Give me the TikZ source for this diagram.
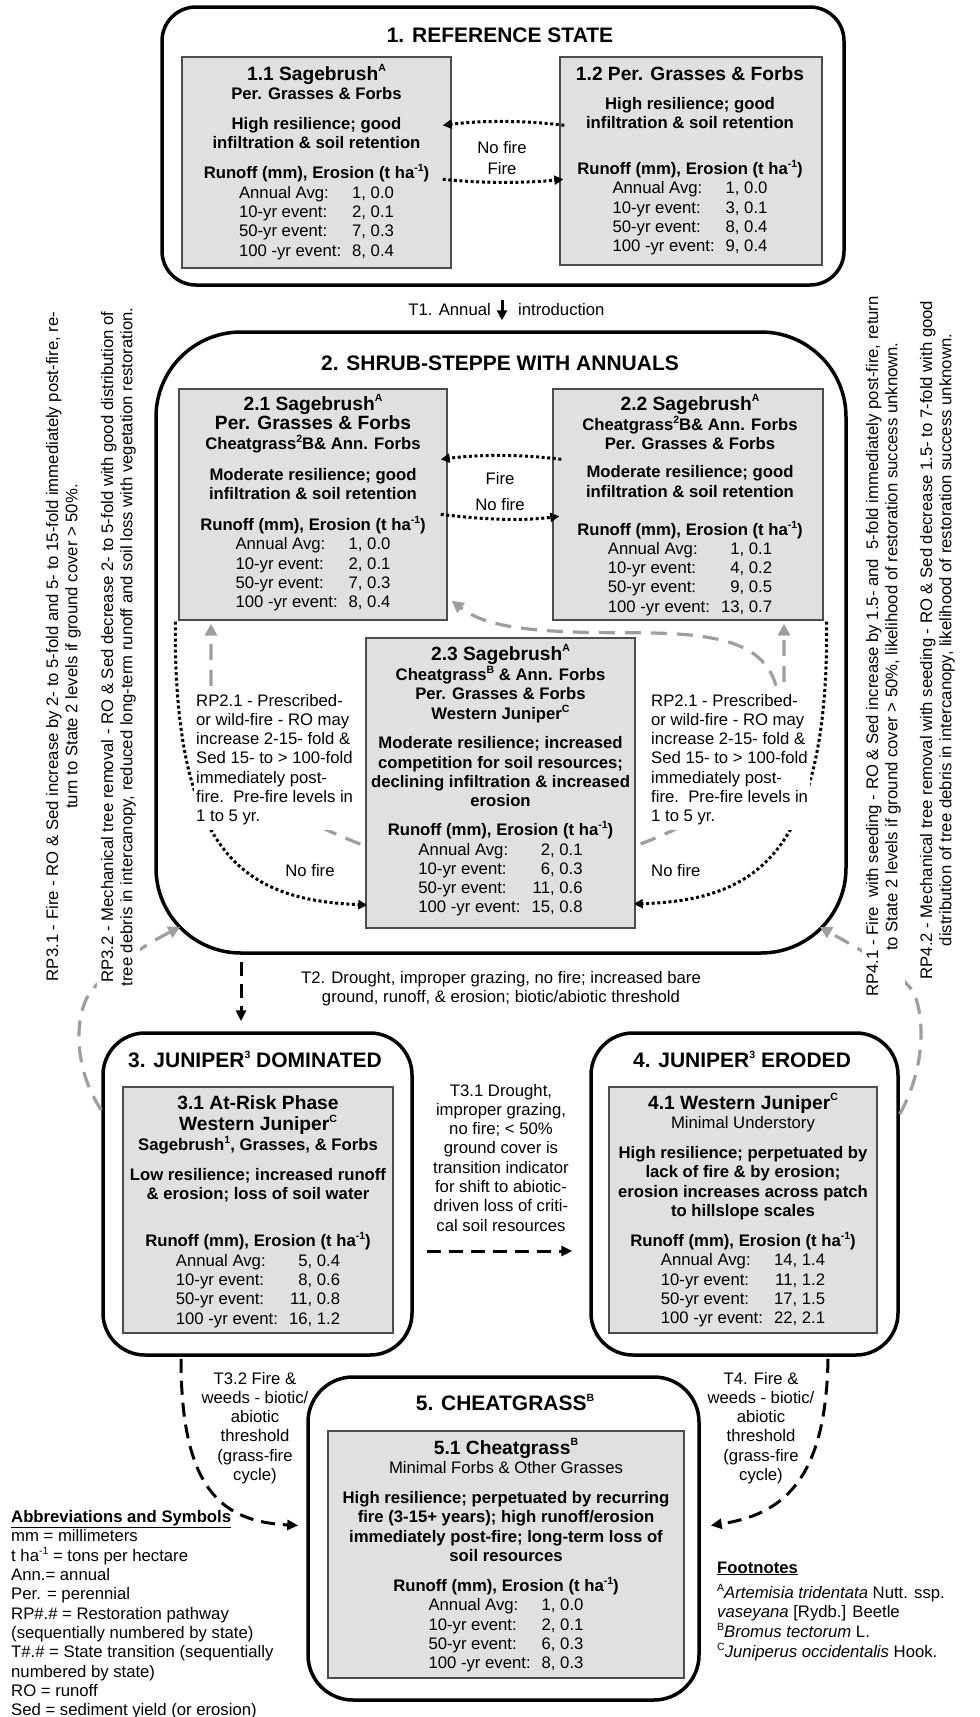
\documentclass[tikz,border=0pt]{standalone}
\usepackage{fontspec}
\setmainfont{Liberation Sans}
\usetikzlibrary{arrows.meta,calc}

\newcommand\mysup[1]{\raisebox{.42em}{\fontsize{10.5}{11}\selectfont #1}}
\newcommand\myhd[1]{{\fontsize{19.2}{20}\selectfont\bfseries #1}}
\newcommand\mystack[1]{\begin{tabular}[t]{@{}c@{}}#1\end{tabular}}
\newcommand\mylstack[1]{\begin{tabular}[t]{@{}l@{}}#1\end{tabular}}
\newcommand\mydata[1]{\begin{tabular}[t]{@{}l@{\hspace{11pt}}r@{}}#1\end{tabular}}
\newcommand\myrun{\textbf{Runoff (mm), Erosion (t ha\mysup{-1})}}

\begin{document}
\begin{tikzpicture}[x=1pt,y=-1pt,
  statebox/.style={draw=black, line width=3.5pt, rounded corners=#1, inner sep=0pt},
  gbox/.style={draw=black!70, line width=1.4pt, fill=black!12, inner sep=0pt},
  ltext/.style={inner sep=0pt, anchor=base, font=\fontsize{16.7}{19.3}\selectfont},
  ttl/.style={inner sep=0pt, anchor=base, font=\fontsize{21}{24}\selectfont\bfseries},
  rtext/.style={ltext, rotate=90, fill=white, inner sep=2pt},
  dotarr/.style={line width=3pt, dash pattern=on 3pt off 2.6pt, -{Triangle[length=9pt,width=9pt]}},
  dasharr/.style={line width=3pt, dash pattern=on 14pt off 8pt, -{Triangle[length=11pt,width=10pt]}},
  grayarr/.style={draw=black!38, line width=3.2pt, dash pattern=on 16pt off 10pt, -{Triangle[length=12pt,width=12pt]}},
  solidarr/.style={line width=3pt, -{Triangle[length=10pt,width=10pt]}}
]
\useasboundingbox (0,0) rectangle (980,1717);
\fill[white] (0,0) rectangle (980,1717);

% ---- state boxes
\node[statebox=34, minimum width=682pt, minimum height=278pt] (s1) at (503,146) {};
\node[statebox=85, minimum width=690pt, minimum height=621pt] (s2) at (501,642.5) {};
\node[statebox=42, minimum width=309pt, minimum height=322pt] (s3) at (257.5,1194) {};
\node[statebox=42, minimum width=307pt, minimum height=322pt] (s4) at (744.5,1194) {};
\node[statebox=45, minimum width=391pt, minimum height=323pt] (s5) at (503.5,1538.5) {};

% ---- gray boxes
\node[gbox, minimum width=269pt, minimum height=211pt] (b11) at (316.5,162.5) {};
\node[gbox, minimum width=262pt, minimum height=208pt] (b12) at (691,161) {};
\node[gbox, minimum width=268pt, minimum height=231pt] (b21) at (313,504.5) {};
\node[gbox, minimum width=270pt, minimum height=231pt] (b22) at (688,504.5) {};
\node[gbox, minimum width=269pt, minimum height=290pt] (b23) at (500.5,783) {};
\node[gbox, minimum width=270pt, minimum height=246pt] (b31) at (258,1210) {};
\node[gbox, minimum width=268pt, minimum height=246pt] (b41) at (743,1210) {};
\node[gbox, minimum width=356pt, minimum height=247pt] (b51) at (506,1554.5) {};

% ---- gray restoration pathways
\draw[grayarr] ($(b23.west)+(-5,61)$) .. controls +(-101,-39) and +(0,70) .. ($(b21.south)+(-102,70)$) -- ($(b21.south)+(-102,3)$);
\draw[grayarr] ($(b23.east)+(5,61)$) .. controls +(100,-39) and +(0,70) .. ($(b22.south)+(96,70)$) -- ($(b22.south)+(96,3)$);
\draw[grayarr] ($(b22.south)+(88,65)$) .. controls +(-14,-50) and +(80,0) .. ($(b22.south)+(-68,12)$) .. controls +(-100,0) and +(31,24) .. ($(b21.south east)+(4,-20)$);
\coordinate (rp3mid) at (92,990);
\coordinate (rp4mid) at (912,990);
\draw[grayarr] ($(s3.west)+(0,-84)$) .. controls +(-30,-45) and +(-17,20) .. (rp3mid) .. controls +(18,-22) and +(-37,19) .. ($(s2.south west)+(26,-28)$);
\draw[grayarr] ($(s4.east)+(0,-80)$) .. controls +(28,-50) and +(12,20) .. (rp4mid) .. controls +(-17,-22) and +(35,20) .. ($(s2.south east)+(-28,-28)$);

% ---- dotted phase arrows
\draw[dotarr] ($(b12.north west)+(5,69)$) .. controls +(-40,-5) and +(40,-5) .. ($(b11.north east)+(-9,69)$);
\draw[dotarr] ($(b11.north east)+(-9,123)$) .. controls +(40,4) and +(-40,4) .. ($(b12.north west)+(4,123)$);
\draw[dotarr] ($(b22.north west)+(9,71)$) .. controls +(-40,-5) and +(40,-5) .. ($(b21.north east)+(-7,71)$);
\draw[dotarr] ($(b21.north east)+(-7,126)$) .. controls +(40,5) and +(-40,5) .. ($(b22.north west)+(7,128)$);
\draw[dotarr] ($(b21.south west)+(-3,1)$) .. controls +(-2,239) and +(-118,-5) .. ($(b23.west)+(2,122)$);
\draw[dotarr] ($(b22.south east)+(3,1)$) .. controls +(2,239) and +(117,-4) .. ($(b23.east)+(-2,121)$);

% ---- transitions
\draw[solidarr] ($(s1.south)+(-1,13)$) -- ($(s2.north)+(1,-10)$);
\draw[dasharr] ($(s2.south)+(-260,7)$) -- ($(s3.north)+(-16.5,-10)$);
\draw[dasharr] ($(s3.east)+(13,57)$) -- ($(s4.west)+(-17,57)$);
\draw[dasharr] ($(s3.south)+(-76.5,2)$) .. controls +(0,133) and +(-75,-4) .. ($(s5.west)+(-8,-13)$);
\draw[dasharr] ($(s4.south)+(83.5,2)$) .. controls +(-2,123) and +(71,-11) .. ($(s5.east)+(10,-13)$);

% ---- titles
\node[ttl] (s1t) at (500,42.5) {1. REFERENCE STATE};
\node[ttl] (s2t) at (500,370.5) {2. SHRUB-STEPPE WITH ANNUALS};
\node[ttl] (s3t) at (255,1067.5) {3. JUNIPER\mysup{3} DOMINATED};
\node[ttl] (s4t) at (742,1067.5) {4. JUNIPER\mysup{3} ERODED};
\node[ttl] (s5t) at (505,1410.5) {5. CHEATGRASS\mysup{B}};

% ---- box texts
\node[ltext] (t11) at (316.5,80) {\mystack{\myhd{1.1 Sagebrush\mysup{A}}\\ \textbf{Per. Grasses \& Forbs}\\[11pt] \textbf{High resilience; good}\\ \textbf{infiltration \& soil retention}\\[10pt] \myrun\\ \mydata{Annual Avg:&1, 0.0\\10-yr event:&2, 0.1\\50-yr event:&7, 0.3\\100 -yr event:&8, 0.4}}};
\node[ltext] (t12) at (690,80) {\mystack{\myhd{1.2 Per. Grasses \& Forbs}\\[10pt] \textbf{High resilience; good}\\ \textbf{infiltration \& soil retention}\\[26pt] \myrun\\ \mydata{Annual Avg:&1, 0.0\\10-yr event:&3, 0.1\\50-yr event:&8, 0.4\\100 -yr event:&9, 0.4}}};
\node[ltext] (t21) at (313,410) {\mystack{\myhd{2.1 Sagebrush\mysup{A}}\\ \myhd{Per. Grasses \& Forbs}\\ \textbf{Cheatgrass\mysup{2}B\& Ann. Forbs}\\[11pt] \textbf{Moderate resilience; good}\\ \textbf{infiltration \& soil retention}\\[11pt] \myrun\\ \mydata{Annual Avg:&1, 0.0\\10-yr event:&2, 0.1\\50-yr event:&7, 0.3\\100 -yr event:&8, 0.4}}};
\node[ltext] (t22) at (690,410) {\mystack{\myhd{2.2 Sagebrush\mysup{A}}\\ \textbf{Cheatgrass\mysup{2}B\& Ann. Forbs}\\ \textbf{Per. Grasses \& Forbs}\\[9pt] \textbf{Moderate resilience; good}\\ \textbf{infiltration \& soil retention}\\[18pt] \myrun\\ \mydata{Annual Avg:&1, 0.1\\10-yr event:&4, 0.2\\50-yr event:&9, 0.5\\100 -yr event:&13, 0.7}}};
\node[ltext] (t23) at (500.5,660) {\mystack{\myhd{2.3 Sagebrush\mysup{A}}\\ \textbf{Cheatgrass\mysup{B} \& Ann. Forbs}\\ \textbf{Per. Grasses \& Forbs}\\ \textbf{Western Juniper\mysup{C}}\\[10pt] \textbf{Moderate resilience; increased}\\ \textbf{competition for soil resources;}\\ \textbf{declining infiltration \& increased}\\ \textbf{erosion}\\[9pt] \myrun\\ \mydata{Annual Avg:&2, 0.1\\10-yr event:&6, 0.3\\50-yr event:&11, 0.6\\100 -yr event:&15, 0.8}}};
\node[ltext] (t31) at (258,1109) {\mystack{\myhd{3.1 At-Risk Phase}\\ \myhd{Western Juniper\mysup{C}}\\ \textbf{Sagebrush\mysup{1}, Grasses, \& Forbs}\\[11pt] \textbf{Low resilience; increased runoff}\\ \textbf{\& erosion; loss of soil water}\\[27pt] \myrun\\ \mydata{Annual Avg:&5, 0.4\\10-yr event:&8, 0.6\\50-yr event:&11, 0.8\\100 -yr event:&16, 1.2}}};
\node[ltext] (t41) at (743,1109) {\mystack{\myhd{4.1 Western Juniper\mysup{C}}\\ Minimal Understory\\[11pt] \textbf{High resilience; perpetuated by}\\ \textbf{lack of fire \& by erosion;}\\ \textbf{erosion increases across patch}\\ \textbf{to hillslope scales}\\[10pt] \myrun\\ \mydata{Annual Avg:&14, 1.4\\10-yr event:&11, 1.2\\50-yr event:&17, 1.5\\100 -yr event:&22, 2.1}}};
\node[ltext] (t51) at (506,1454) {\mystack{\myhd{5.1 Cheatgrass\mysup{B}}\\ Minimal Forbs \& Other Grasses\\[11pt] \textbf{High resilience; perpetuated by recurring}\\ \textbf{fire (3-15+ years); high runoff/erosion}\\ \textbf{immediately post-fire; long-term loss of}\\ \textbf{soil resources}\\[10pt] \myrun\\ \mydata{Annual Avg:&1, 0.0\\10-yr event:&2, 0.1\\50-yr event:&6, 0.3\\100 -yr event:&8, 0.3}}};

% ---- arrow labels
\node[ltext] (nf1) at (502,153) {No fire};
\node[ltext] (f1) at (502,174) {Fire};
\node[ltext] (f2) at (500,484) {Fire};
\node[ltext] (nf2) at (500,510) {No fire};
\node[ltext, anchor=base east] (t1a) at (491,315) {T1. Annual};
\node[ltext, anchor=base west] (t1b) at (518,315) {introduction};
\node[ltext] (t2) at (501,983) {\mystack{T2. Drought, improper grazing, no fire; increased bare\\ ground, runoff, \& erosion; biotic/abiotic threshold}};
\node[ltext, anchor=base west, fill=white, inner sep=2pt] (rp21l) at (194,706) {\mylstack{RP2.1 - Prescribed-\\ or wild-fire - RO may\\ increase 2-15- fold \&\\ Sed 15- to > 100-fold\\ immediately post-\\ fire.\ \ Pre-fire levels in\\ 1 to 5 yr.}};
\node[ltext, anchor=base west, fill=white, inner sep=2pt] (rp21r) at (649,706) {\mylstack{RP2.1 - Prescribed-\\ or wild-fire - RO may\\ increase 2-15- fold \&\\ Sed 15- to > 100-fold\\ immediately post-\\ fire.\ \ Pre-fire levels in\\ 1 to 5 yr.}};
\node[ltext] (nf3) at (310,876) {No fire};
\node[ltext, anchor=base west] (nf4) at (651,876) {No fire};
\node[ltext] (t31t) at (501,1096) {\mystack{T3.1 Drought,\\ improper grazing,\\ no fire; < 50\%\\ ground cover is\\ transition indicator\\ for shift to abiotic-\\ driven loss of criti-\\ cal soil resources}};
\node[ltext] (t32t) at (255,1384) {\mystack{T3.2 Fire \&\\ weeds - biotic/\\ abiotic\\ threshold\\ (grass-fire\\ cycle)}};
\node[ltext] (t4t) at (761,1384) {\mystack{T4. Fire \&\\ weeds - biotic/\\ abiotic\\ threshold\\ (grass-fire\\ cycle)}};

% ---- side texts
\node[rtext] (rp31) at (58,646.5) {\mystack{RP3.1 - Fire - RO \& Sed increase by 2- to 5-fold and 5- to 15-fold immediately post-fire, re-\\ turn to State 2 levels if ground cover > 50\%.}};
\node[rtext] (rp32) at (113,647) {\mystack{RP3.2 - Mechanical tree removal - RO \& Sed decrease 2- to 5-fold with good distribution of\\ tree debris in intercanopy, reduced long-term runoff and soil loss with vegetation restoration.}};
\node[rtext] (rp41) at (878,646.5) {\mystack{RP4.1 - Fire\ \ with seeding - RO \& Sed increase by 1.5- and\ \ 5-fold immediately post-fire, return\\ to State 2 levels if ground cover > 50\%, likelihood of restoration success unknown.}};
\node[rtext] (rp42) at (932,640) {\mystack{RP4.2 - Mechanical tree removal with seeding - RO \& Sed decrease 1.5- to 7-fold with good\\ distribution of tree debris in intercanopy, likelihood of restoration success unknown.}};

% ---- legends
\node[ltext, anchor=base west] (abbr) at (11,1522) {\mylstack{\underline{\textbf{Abbreviations and Symbols}}\\ mm = millimeters\\ t ha\mysup{-1} = tons per hectare\\ Ann.= annual\\ Per. = perennial\\ RP\#.\# = Restoration pathway\\ (sequentially numbered by state)\\ T\#.\# = State transition (sequentially\\ numbered by state)\\ RO = runoff\\ Sed = sediment yield (or erosion)}};
\node[ltext, anchor=base west] (fn) at (717,1573) {\mylstack{\underline{\textbf{Footnotes}}\\[5pt] \mysup{A}\textit{Artemisia tridentata} Nutt. ssp.\\ \textit{vaseyana} [Rydb.] Beetle\\ \mysup{B}\textit{Bromus tectorum} L.\\ \mysup{C}\textit{Juniperus occidentalis} Hook.}};
\end{tikzpicture}
\end{document}
